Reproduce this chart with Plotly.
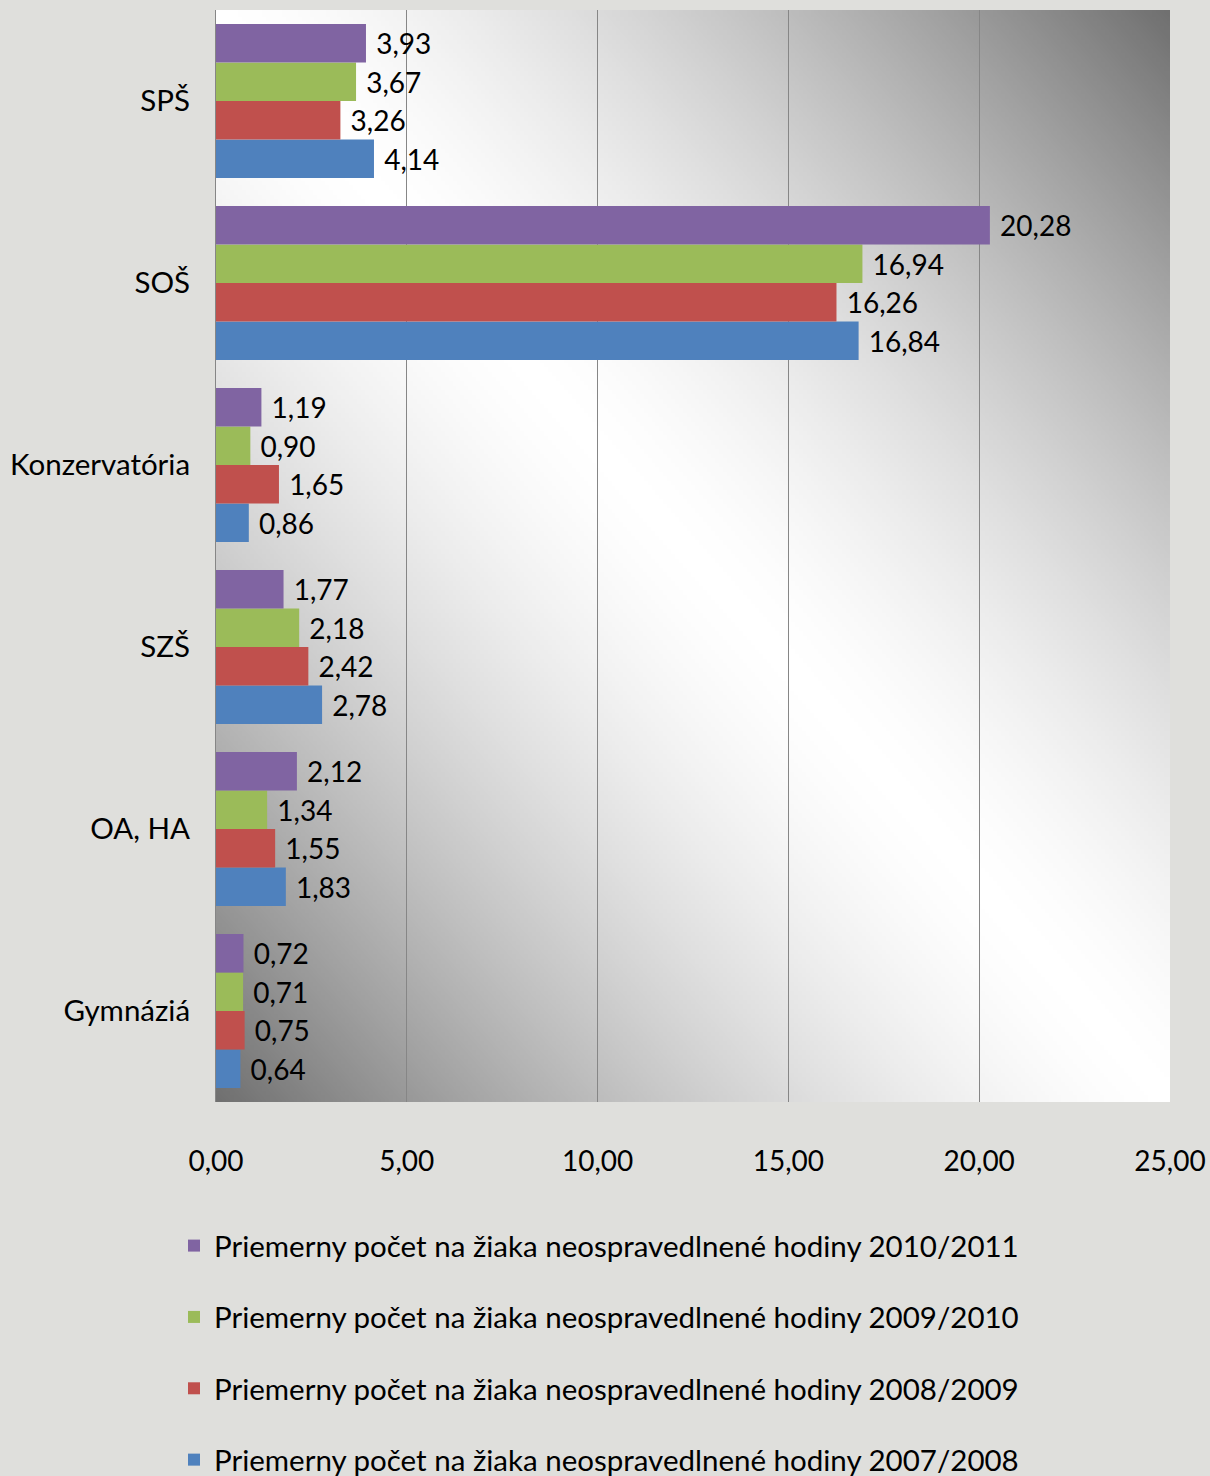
import base64
import struct
import zlib

import plotly.graph_objects as go

# ---------------- data ----------------
categories = ["Gymnáziá", "OA, HA", "SZŠ", "Konzervatória", "SOŠ", "SPŠ"]
series_names = [
    "Priemerny počet na žiaka neospravedlnené hodiny 2007/2008",
    "Priemerny počet na žiaka neospravedlnené hodiny 2008/2009",
    "Priemerny počet na žiaka neospravedlnené hodiny 2009/2010",
    "Priemerny počet na žiaka neospravedlnené hodiny 2010/2011",
]
v_2007_2008 = [0.64, 1.83, 2.78, 0.86, 16.84, 4.14]
v_2008_2009 = [0.75, 1.55, 2.42, 1.65, 16.26, 3.26]
v_2009_2010 = [0.71, 1.34, 2.18, 0.90, 16.94, 3.67]
v_2010_2011 = [0.72, 2.12, 1.77, 1.19, 20.28, 3.93]
series_values = [v_2007_2008, v_2008_2009, v_2009_2010, v_2010_2011]
colors = ["#4F81BD", "#C0504D", "#9BBB59", "#8064A2"]
legend_ranks = [4, 3, 2, 1]
x_ticks = [0, 5, 10, 15, 20, 25]

FONT = "Lato, 'Liberation Sans', Arial, sans-serif"


# ---------------- gradient background image (plot area) ----------------
def make_png(w, h):
    rows = []
    for j in range(h):
        row = bytearray([0])
        yn = j / (h - 1)
        for i in range(w):
            xn = i / (w - 1)
            u = abs(xn - yn)
            g = int(round(255 - 143 * (u ** 1.5)))
            row.append(g)
        rows.append(bytes(row))
    raw = b"".join(rows)

    def chunk(tag, data):
        c = struct.pack(">I", len(data)) + tag + data
        return c + struct.pack(">I", zlib.crc32(tag + data) & 0xFFFFFFFF)

    png = b"\x89PNG\r\n\x1a\n"
    png += chunk(b"IHDR", struct.pack(">IIBBBBB", w, h, 8, 0, 0, 0, 0))
    png += chunk(b"IDAT", zlib.compress(raw, 9))
    png += chunk(b"IEND", b"")
    return "data:image/png;base64," + base64.b64encode(png).decode()


grad_src = make_png(240, 240)

fig = go.Figure()
for name, vals, col, rank in zip(series_names, series_values, colors, legend_ranks):
    fig.add_trace(
        go.Bar(
            y=categories,
            x=vals,
            name=name,
            orientation="h",
            marker=dict(color=col, line=dict(width=0)),
            texttemplate=" %{x:.2f}",
            textposition="outside",
            textfont=dict(family=FONT, size=28, color="#000000"),
            cliponaxis=False,
            legendgroup=name,
            legendrank=rank,
        )
    )

fig.update_layout(
    width=1210,
    height=1476,
    margin=dict(l=216, r=40, t=10, b=374, autoexpand=False),
    paper_bgcolor="#DFDFDC",
    plot_bgcolor="rgba(0,0,0,0)",
    barmode="group",
    bargap=0.155,
    bargroupgap=0,
    separators=", ",
    font=dict(family=FONT, size=28, color="#000000"),
    showlegend=True,
    legend=dict(
        traceorder="grouped",
        tracegroupgap=30,
        xref="container",
        x=174 / 1210,
        xanchor="left",
        yref="container",
        y=0.1735,
        yanchor="top",
        bgcolor="rgba(0,0,0,0)",
        font=dict(family=FONT, size=29.5, color="#000000"),
    ),
    images=[
        dict(
            source=grad_src,
            xref="paper",
            yref="paper",
            x=0,
            y=1,
            sizex=1,
            sizey=1,
            xanchor="left",
            yanchor="top",
            sizing="stretch",
            layer="below",
        )
    ],
)

fig.update_xaxes(
    range=[0, 25],
    tickvals=x_ticks,
    tickformat=".2f",
    showgrid=True,
    gridcolor="#868686",
    gridwidth=1,
    zeroline=False,
    showline=False,
    ticks="",
    automargin=False,
    ticklabelstandoff=40,
    tickfont=dict(family=FONT, size=28, color="#000000"),
)
fig.update_yaxes(
    categoryorder="array",
    categoryarray=categories,
    showgrid=False,
    showline=True,
    linecolor="#868686",
    linewidth=1,
    ticks="",
    automargin=False,
    ticklabelstandoff=19,
    tickfont=dict(family=FONT, size=29.5, color="#000000"),
)

fig.write_html(
    "out.html",
    include_plotlyjs=True,
    config={"displayModeBar": False},
    post_script="document.body.style.margin='0';document.body.style.overflow='hidden';",
)
